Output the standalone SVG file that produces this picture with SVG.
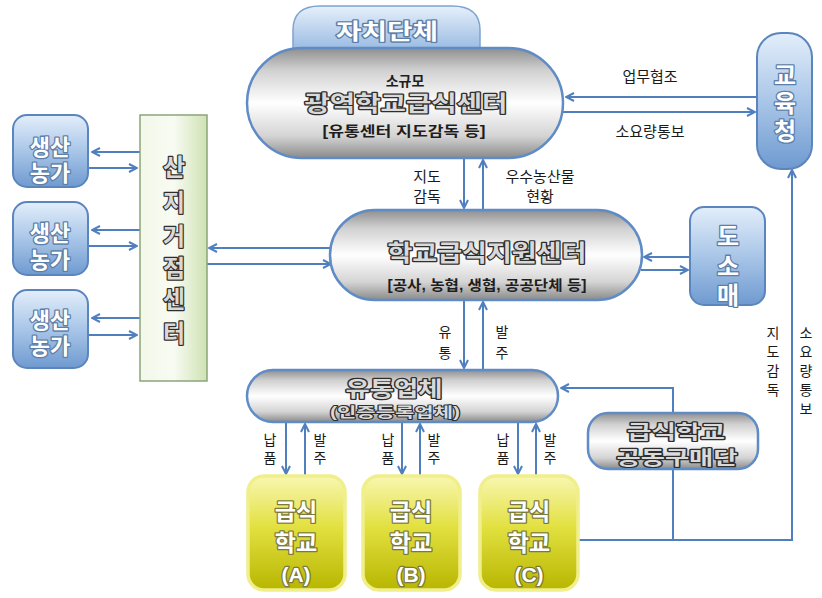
<svg xmlns="http://www.w3.org/2000/svg" width="822" height="598" viewBox="0 0 822 598">
<defs>
<linearGradient id="gPill" x1="0" y1="0" x2="0" y2="1">
<stop offset="0" stop-color="#8f8f8f"/><stop offset="0.2" stop-color="#d0d0d0"/><stop offset="0.5" stop-color="#ffffff"/><stop offset="0.8" stop-color="#d4d4d4"/><stop offset="1" stop-color="#8a8a8a"/>
</linearGradient>
<linearGradient id="gBlue" x1="0" y1="0" x2="0" y2="1">
<stop offset="0" stop-color="#e3eefa"/><stop offset="0.5" stop-color="#a9c6e8"/><stop offset="1" stop-color="#6f9ad0"/>
</linearGradient>
<linearGradient id="gTab" x1="0" y1="0" x2="0" y2="1">
<stop offset="0" stop-color="#e6f0fb"/><stop offset="1" stop-color="#95b8e0"/>
</linearGradient>
<linearGradient id="gGreen" x1="0" y1="0" x2="1" y2="0">
<stop offset="0" stop-color="#f3f8ea"/><stop offset="0.5" stop-color="#f8fbf2"/><stop offset="1" stop-color="#cfe2b4"/>
</linearGradient>
<linearGradient id="gYellow" x1="0" y1="0" x2="0" y2="1">
<stop offset="0" stop-color="#f8f7b0"/><stop offset="0.45" stop-color="#e2e040"/><stop offset="1" stop-color="#b8b600"/>
</linearGradient>
<marker id="ah" viewBox="0 0 10 10" refX="9" refY="5" markerWidth="10" markerHeight="10" markerUnits="userSpaceOnUse" orient="auto">
<path d="M1,1 L9,5 L1,9" fill="none" stroke="#4f7fbf" stroke-width="2"/>
</marker>
</defs>
<style>
.pill{fill:url(#gPill);stroke:#5f8cc6;stroke-width:2.5}
.blue{fill:url(#gBlue);stroke:#5b86bd;stroke-width:2}
.green{fill:url(#gGreen);stroke:#8aa57a;stroke-width:1.5}
.yel{fill:url(#gYellow);stroke:#f0ef8c;stroke-width:3.5}
.ln{fill:none;stroke:#4f7fbf;stroke-width:2}
.ar{fill:none;stroke:#4f7fbf;stroke-width:2;marker-end:url(#ah)}
.t{font-family:"Liberation Sans","Noto Sans CJK KR",sans-serif;text-anchor:middle}
.emb{font-weight:bold;fill:#d9d9d9;stroke:#2e2e2e;stroke-width:2.4;paint-order:stroke;stroke-linejoin:round}
.sub{font-weight:bold;fill:#1e1e1e;stroke:none}
.wb{font-weight:bold;fill:#ffffff;stroke:#5d7ea8;stroke-width:2.6;paint-order:stroke;stroke-linejoin:round}
.wy{font-weight:bold;fill:#ffffff;stroke:#7c7a3a;stroke-width:2.6;paint-order:stroke;stroke-linejoin:round}
.lab{fill:#1a1a1a;font-size:14px}
</style>
<rect width="822" height="598" fill="#ffffff"/>

<g id="connectors">
<path class="ar" d="M757,97 L566,97"/>
<path class="ar" d="M563,112 L755,112"/>
<path class="ar" d="M464,158 L464,208"/>
<path class="ar" d="M483,210 L483,160"/>
<path class="ar" d="M140,152 L92,152"/>
<path class="ar" d="M88,168 L137,168"/>
<path class="ar" d="M140,230 L92,230"/>
<path class="ar" d="M88,246 L137,246"/>
<path class="ar" d="M140,318 L92,318"/>
<path class="ar" d="M88,335 L137,335"/>
<path class="ar" d="M334,248 L209,248"/>
<path class="ar" d="M207,264 L331,264"/>
<path class="ar" d="M690,257 L644,257"/>
<path class="ar" d="M641,270 L688,270"/>
<path class="ar" d="M464,300 L464,368"/>
<path class="ar" d="M483,370 L483,302"/>
<path class="ar" d="M673,412 L673,388 L561,388"/>
<path class="ar" d="M286,422 L286,474"/>
<path class="ar" d="M305,476 L305,424"/>
<path class="ar" d="M402,422 L402,474"/>
<path class="ar" d="M420,476 L420,424"/>
<path class="ar" d="M518,422 L518,474"/>
<path class="ar" d="M536,476 L536,424"/>
<path class="ln" d="M673,469 L673,540"/>
<path class="ar" d="M578,540 L792,540 L792,170"/>
</g>

<g id="jachi">
<path d="M293,52 L293,30 Q293,6 320,6 L452,6 Q480,6 480,30 L480,52 Z" fill="url(#gTab)" stroke="#7ea3d1" stroke-width="1.5"/>
<text class="t wb" x="387" y="39" font-size="22" textLength="102" lengthAdjust="spacingAndGlyphs">자치단체</text>
</g>

<g id="gwangyeok">
<rect x="247" y="48" width="316" height="110" rx="55" ry="55" class="pill"/>
<text class="t sub" x="405" y="86" font-size="14">소규모</text>
<text class="t emb" x="406" y="111" font-size="22" textLength="203" lengthAdjust="spacingAndGlyphs">광역학교급식센터</text>
<text class="t sub" x="404" y="136" font-size="14" textLength="163" lengthAdjust="spacingAndGlyphs">[유통센터 지도감독 등]</text>
</g>

<g id="gyoyukcheong">
<rect x="757" y="33" width="55" height="136" rx="24" ry="24" class="blue"/>
<text class="t wb" font-size="24"><tspan x="785" y="84">교</tspan><tspan x="785" y="112">육</tspan><tspan x="785" y="140">청</tspan></text>
</g>

<g id="farm1">
<rect x="13" y="115" width="75" height="72" rx="14" class="blue"/>
<text class="t wb" font-size="22"><tspan x="50" y="155">생산</tspan><tspan x="50" y="181">농가</tspan></text>
</g>
<g id="farm2">
<rect x="13" y="202" width="75" height="73" rx="14" class="blue"/>
<text class="t wb" font-size="22"><tspan x="50" y="241">생산</tspan><tspan x="50" y="268">농가</tspan></text>
</g>
<g id="farm3">
<rect x="13" y="290" width="75" height="78" rx="14" class="blue"/>
<text class="t wb" font-size="22"><tspan x="50" y="328">생산</tspan><tspan x="50" y="354">농가</tspan></text>
</g>

<g id="sanji">
<rect x="140" y="115" width="67" height="266" class="green"/>
<text class="t emb" font-size="24"><tspan x="174" y="176">산</tspan><tspan x="174" y="211">지</tspan><tspan x="174" y="245">거</tspan><tspan x="174" y="277">점</tspan><tspan x="174" y="308">센</tspan><tspan x="174" y="342">터</tspan></text>
</g>

<g id="jiwon">
<rect x="330" y="210" width="312" height="90" rx="45" ry="45" class="pill"/>
<text class="t emb" x="487" y="261" font-size="23" textLength="199" lengthAdjust="spacingAndGlyphs">학교급식지원센터</text>
<text class="t sub" x="487" y="290" font-size="14" textLength="199" lengthAdjust="spacingAndGlyphs">[공사, 농협, 생협, 공공단체 등]</text>
</g>

<g id="dosomae">
<rect x="690" y="207" width="75" height="98" rx="14" class="blue"/>
<text class="t wb" font-size="24"><tspan x="728" y="245">도</tspan><tspan x="728" y="275">소</tspan><tspan x="728" y="304">매</tspan></text>
</g>

<g id="yutong">
<rect x="247" y="370" width="311" height="52" rx="26" ry="26" class="pill"/>
<text class="t emb" x="394" y="396" font-size="21" textLength="97" lengthAdjust="spacingAndGlyphs">유통업체</text>
<text class="t emb" x="395" y="417" font-size="14" style="stroke-width:1.8" textLength="130" lengthAdjust="spacingAndGlyphs">(인증등록업체)</text>
</g>

<g id="gongdong">
<rect x="588" y="413" width="170" height="56" rx="20" ry="20" class="pill"/>
<text class="t emb" font-size="19"><tspan x="676" y="439" textLength="98" lengthAdjust="spacingAndGlyphs">급식학교</tspan><tspan x="677" y="465" textLength="121" lengthAdjust="spacingAndGlyphs">공동구매단</tspan></text>
</g>

<g id="schoolA">
<rect x="248" y="476" width="97" height="114" rx="16" class="yel"/>
<text class="t wy" font-size="23"><tspan x="296" y="520">급식</tspan><tspan x="296" y="551">학교</tspan><tspan x="296" y="582" font-size="21">(A)</tspan></text>
</g>
<g id="schoolB">
<rect x="363" y="476" width="97" height="114" rx="16" class="yel"/>
<text class="t wy" font-size="23"><tspan x="411" y="520">급식</tspan><tspan x="411" y="551">학교</tspan><tspan x="411" y="582" font-size="21">(B)</tspan></text>
</g>
<g id="schoolC">
<rect x="480" y="476" width="98" height="114" rx="16" class="yel"/>
<text class="t wy" font-size="23"><tspan x="529" y="520">급식</tspan><tspan x="529" y="551">학교</tspan><tspan x="529" y="582" font-size="21">(C)</tspan></text>
</g>

<g id="labels" class="t lab">
<text x="650" y="82" font-size="15">업무협조</text>
<text x="650" y="137" font-size="15">소요량통보</text>
<text font-size="15"><tspan x="427" y="182">지도</tspan><tspan x="427" y="202">감독</tspan></text>
<text font-size="15"><tspan x="540" y="182">우수농산물</tspan><tspan x="540" y="202">현황</tspan></text>
<text><tspan x="445" y="337">유</tspan><tspan x="445" y="358">통</tspan></text>
<text><tspan x="502" y="337">발</tspan><tspan x="502" y="358">주</tspan></text>
<text><tspan x="270" y="445">납</tspan><tspan x="270" y="463">품</tspan></text>
<text><tspan x="320" y="445">발</tspan><tspan x="320" y="463">주</tspan></text>
<text><tspan x="388" y="445">납</tspan><tspan x="388" y="463">품</tspan></text>
<text><tspan x="434" y="445">발</tspan><tspan x="434" y="463">주</tspan></text>
<text><tspan x="503" y="445">납</tspan><tspan x="503" y="463">품</tspan></text>
<text><tspan x="550" y="445">발</tspan><tspan x="550" y="463">주</tspan></text>
<text><tspan x="773" y="338">지</tspan><tspan x="773" y="357">도</tspan><tspan x="773" y="376">감</tspan><tspan x="773" y="395">독</tspan></text>
<text><tspan x="806" y="338">소</tspan><tspan x="806" y="357">요</tspan><tspan x="806" y="376">량</tspan><tspan x="806" y="395">통</tspan><tspan x="806" y="414">보</tspan></text>
</g>
</svg>
